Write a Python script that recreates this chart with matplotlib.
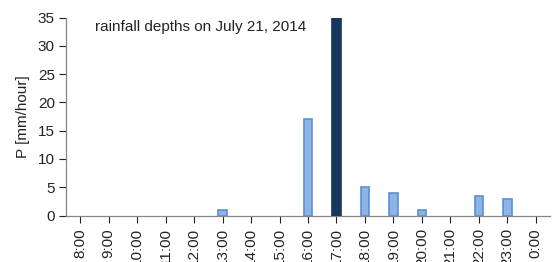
import matplotlib
matplotlib.use("Agg")
import matplotlib.pyplot as plt

hours = ["8:00", "9:00", "10:00", "11:00", "12:00", "13:00", "14:00", "15:00",
         "16:00", "17:00", "18:00", "19:00", "20:00", "21:00", "22:00", "23:00", "0:00"]
rain = [0, 0, 0, 0, 0, 0.9, 0, 0, 17.0, 35.0, 5.0, 4.0, 1.0, 0, 3.5, 3.0, 0]
peak_index = 9

plt.rcParams['font.family'] = ['Liberation Sans', 'DejaVu Sans']

fig = plt.figure(figsize=(5.52, 2.62), dpi=100)
ax = fig.add_axes([66/552, 1 - 215.5/262, 484/552, 198/262])

x = list(range(len(hours)))
face = ["#17375E" if i == peak_index else "#8DB4E2" for i in x]
edge = [("#17375E" if i == peak_index else "#5B8FD9") if rain[i] > 0 else "none" for i in x]
ax.bar(x, rain, width=0.3, color=face, edgecolor=edge, linewidth=1.2, zorder=3)

ax.set_xlim(-0.5, len(hours) - 0.5)
ax.set_ylim(0, 35)
ax.set_yticks(range(0, 36, 5))
ax.set_xticks(x)
ax.set_xticklabels(hours, rotation=90, fontsize=11, color="#222222")
ax.tick_params(axis='y', labelsize=11, colors="#222222", length=5, width=0.8, pad=3)
ax.tick_params(axis='x', length=5, width=0.8, pad=4, colors="#222222")
for t in ax.get_xticklines() + ax.get_yticklines():
    t.set_color("#868686")

for s in ["top", "right"]:
    ax.spines[s].set_visible(False)
for s in ["left", "bottom"]:
    ax.spines[s].set_color("#868686")
    ax.spines[s].set_linewidth(0.9)

ax.set_ylabel("P [mm/hour]", fontsize=11, color="#222222", labelpad=6)
ax.text(0.06, 0.95, "rainfall depths on July 21, 2014", transform=ax.transAxes,
        fontsize=11, color="#222222", va="center", ha="left")

fig.savefig("out.png", dpi=100)
